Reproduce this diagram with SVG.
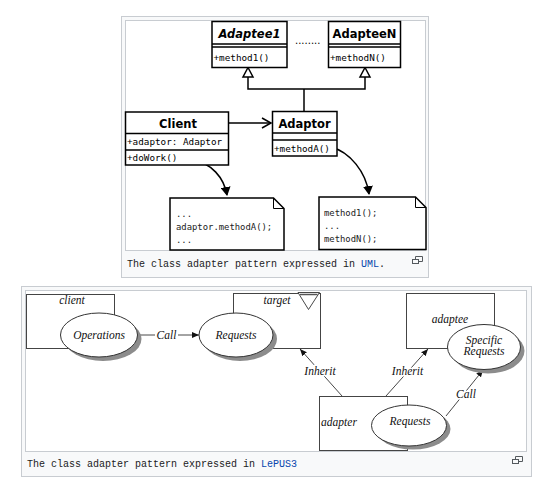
<svg xmlns="http://www.w3.org/2000/svg" width="538" height="484" viewBox="0 0 538 484">
<style>
.frame{fill:#f8f9fa;stroke:#c8ccd1;stroke-width:1}
.img{fill:#ffffff;stroke:#c8ccd1;stroke-width:1}
.cap{font-family:"Liberation Mono","DejaVu Sans Mono",monospace;font-size:10px;fill:#202122}
.link{fill:#0645ad}
.ub{fill:#fff;stroke:#000;stroke-width:1.5}
.ul{stroke:#000;stroke-width:1.5;fill:none}
.uh{font-family:"DejaVu Sans",sans-serif;font-weight:bold;font-size:11.5px;text-anchor:middle;fill:#000}
.um{font-family:"DejaVu Sans Mono",monospace;font-size:9.3px;fill:#000}
.nm{font-family:"DejaVu Sans Mono",monospace;font-size:8.9px;fill:#222}
.lb{fill:none;stroke:#444;stroke-width:1}
.el{fill:#fff;stroke:#333;stroke-width:1}
.sh{fill:#8c8c8c}
.lt{font-family:"Liberation Serif","DejaVu Serif",serif;font-style:italic;font-size:11.5px;text-anchor:middle;fill:#111}
.halo{paint-order:stroke;stroke:#fff;stroke-width:3px;stroke-linejoin:round}
.ll{stroke:#333;stroke-width:0.9;fill:none}
.icon{fill:none;stroke:#54595d;stroke-width:1}
</style>
<defs>
<marker id="curveHead" markerWidth="10" markerHeight="10" refX="8" refY="5" orient="auto" markerUnits="userSpaceOnUse">
<path d="M0,0 L9,5 L0,10 Z" fill="#000"/>
</marker>
<marker id="openHead" markerWidth="12" markerHeight="12" refX="10" refY="6" orient="auto" markerUnits="userSpaceOnUse">
<path d="M1,1 L10,6 L1,11" fill="none" stroke="#000" stroke-width="1.5"/>
</marker>
<marker id="smallHead" markerWidth="8" markerHeight="8" refX="7" refY="3.5" orient="auto" markerUnits="userSpaceOnUse">
<path d="M0,0.5 L7,3.5 L0,6.5 Z" fill="#111"/>
</marker>
</defs>

<!-- UML frame -->
<g id="uml-frame">
<rect class="frame" x="121.5" y="16.5" width="307" height="261"/>
<rect class="img" x="125.5" y="20.5" width="300" height="230"/>
<text class="cap" x="127" y="267">The class adapter pattern expressed in</text>
<text class="cap link" x="361" y="267">UML</text>
<text class="cap" x="379" y="267">.</text>
<g class="icon"><rect x="412.5" y="259.5" width="6" height="4"/><path d="M415.5,259.5 V256.5 H422.5 V261.5 H418.5"/></g>
</g>

<g id="connectors-uml">
<path class="ul" d="M248,77 V89 H365 V77"/>
<path class="ul" d="M304,89 V111"/>
<path class="ul" d="M229,123 H271" marker-end="url(#openHead)"/>
<path class="ul" d="M191,159 C212,163 224,178 227,195" marker-end="url(#curveHead)"/>
<path class="ul" d="M331,147 C350,152 366,172 369,194" marker-end="url(#curveHead)"/>
<path d="M248,67.5 L243,77 H253 Z" fill="#fff" stroke="#000" stroke-width="1.5"/>
<path d="M365,67.5 L360,77 H370 Z" fill="#fff" stroke="#000" stroke-width="1.5"/>
</g>

<g id="adaptee1">
<rect class="ub" x="212" y="21.5" width="75" height="46"/>
<path class="ul" d="M212,44 H287 M212,47 H287"/>
<text class="uh" x="249.5" y="37.5" font-style="italic">Adaptee1</text>
<text class="um" x="213.5" y="61">+method1()</text>
</g>

<text id="dots" x="295" y="44" font-family="DejaVu Sans,sans-serif" font-size="10" fill="#000">........</text>

<g id="adapteeN">
<rect class="ub" x="328.5" y="21.5" width="72" height="46"/>
<path class="ul" d="M328.5,44 H400.5 M328.5,47 H400.5"/>
<text class="uh" x="364.5" y="37.5">AdapteeN</text>
<text class="um" x="330" y="61">+methodN()</text>
</g>

<g id="client">
<rect class="ub" x="125.5" y="112" width="103" height="53"/>
<path class="ul" d="M125.5,133.5 H228.5 M125.5,150 H228.5"/>
<text class="uh" x="178" y="127.5">Client</text>
<text class="um" x="127" y="145">+adaptor: Adaptor</text>
<text class="um" x="127" y="161">+doWork()</text>
</g>

<g id="adaptor">
<rect class="ub" x="272.5" y="111.5" width="64.5" height="44.5"/>
<path class="ul" d="M272.5,133 H337 M272.5,140 H337"/>
<text class="uh" x="304.5" y="127.5">Adaptor</text>
<text class="um" x="274" y="152">+methodA()</text>
</g>

<g id="note1">
<path class="ub" d="M170,198 H273.5 L284,208.5 V250 H170 Z"/>
<path d="M273.5,198 V208.5 H284" fill="none" stroke="#000" stroke-width="1"/>
<text class="nm" x="176" y="217">...</text>
<text class="nm" x="176" y="229.5">adaptor.methodA();</text>
<text class="nm" x="176" y="243">...</text>
</g>

<g id="note2">
<path class="ub" d="M319,197 H415.5 L426,207.5 V249.5 H319 Z"/>
<path d="M415.5,197 V207.5 H426" fill="none" stroke="#000" stroke-width="1"/>
<text class="nm" x="324" y="216">method1();</text>
<text class="nm" x="324" y="229">...</text>
<text class="nm" x="324" y="242">methodN();</text>
</g>

<!-- LePUS3 frame -->
<g id="lepus-frame">
<rect class="frame" x="21.5" y="286.5" width="510" height="190"/>
<rect class="img" x="25.5" y="290.5" width="501" height="161"/>
<text class="cap" x="27" y="467">The class adapter pattern expressed in</text>
<text class="cap link" x="261" y="467">LePUS3</text>
<g class="icon"><rect x="512.5" y="459.5" width="6" height="4"/><path d="M515.5,459.5 V456.5 H522.5 V461.5 H518.5"/></g>
</g>

<g id="client-box">
<rect class="lb" x="26.5" y="294.5" width="88" height="54"/>
<text class="lt" x="72" y="303.5">client</text>
</g>

<g id="target-box">
<rect class="lb" x="233.5" y="293.5" width="87" height="55"/>
<text class="lt" x="277" y="303.5">target</text>
<path d="M298,292.5 H319.5 L308.5,309.5 Z" fill="#fff" stroke="#333" stroke-width="0.9"/>
<path d="M300,294.5 H317.5" stroke="#555" stroke-width="1.5"/>
</g>

<g id="adaptee-box">
<rect class="lb" x="406.5" y="293.5" width="88" height="55"/>
<text class="lt" x="450" y="323">adaptee</text>
</g>

<g id="adapter-box">
<rect class="lb" x="319.5" y="396.5" width="88" height="54"/>
<text class="lt" x="339" y="425.5">adapter</text>
</g>

<g id="connectors-lepus">
<path class="ll" d="M137,335 H155"/>
<path class="ll" d="M178,335 H199" marker-end="url(#smallHead)"/>
<path class="ll" d="M342,396 L300,349" marker-end="url(#smallHead)"/>
<path class="ll" d="M386,396 L428,349" marker-end="url(#smallHead)"/>
<path class="ll" d="M446,416 L483,370" marker-end="url(#smallHead)"/>
<text class="lt" x="166.5" y="338.5">Call</text>
<text class="lt halo" x="320" y="374.5">Inherit</text>
<text class="lt halo" x="407.5" y="374.5">Inherit</text>
<text class="lt halo" x="466" y="397.5">Call</text>
</g>

<g id="operations">
<ellipse class="sh" cx="103" cy="339" rx="38.5" ry="22"/>
<ellipse class="el" cx="99" cy="335" rx="38.5" ry="22"/>
<text class="lt" x="99" y="338.5">Operations</text>
</g>

<g id="requests-target">
<ellipse class="sh" cx="240" cy="339" rx="37" ry="22"/>
<ellipse class="el" cx="236" cy="335" rx="37" ry="22"/>
<text class="lt" x="236" y="338.5">Requests</text>
</g>

<g id="specific-requests">
<ellipse class="sh" cx="488" cy="351" rx="36.5" ry="22.5"/>
<ellipse class="el" cx="484" cy="347" rx="36.5" ry="22.5"/>
<text class="lt" x="484" y="343.5">Specific</text>
<text class="lt" x="484" y="355">Requests</text>
</g>

<g id="requests-adapter">
<ellipse class="sh" cx="413" cy="429" rx="37.5" ry="20.5"/>
<ellipse class="el" cx="409" cy="425.5" rx="37.5" ry="20.5"/>
<text class="lt" x="410" y="424.5">Requests</text>
</g>
</svg>
